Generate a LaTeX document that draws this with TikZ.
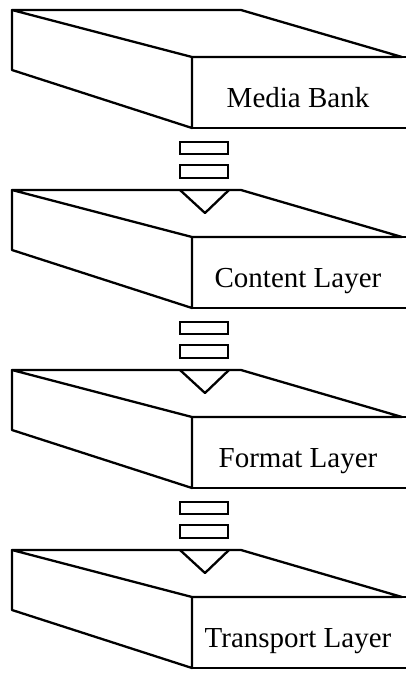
\documentclass[tikz,border=0pt]{standalone}
\usepackage{fontspec}
\setmainfont{Liberation Serif}
\tikzset{
  edge/.style={draw=black, line width=2.3pt, line join=round, line cap=round},
  label/.style={font=\fontsize{29}{33}\selectfont, anchor=base, inner sep=0pt},
  bar/.style={draw=black, line width=2pt}
}
\begin{document}
\begin{tikzpicture}[x=1pt,y=-1pt]
\useasboundingbox (0,0) rectangle (405,673);
% slab shape
\foreach \T/\nm/\txt in {10/mb/Media Bank, 190/cl/Content Layer, 370/fl/Format Layer, 550/tl/Transport Layer}{
  \draw[edge] (12,\T) -- (241,\T) -- (402,\T+47) -- (192,\T+47) -- cycle;
  \draw[edge] (12,\T) -- (12,\T+60) -- (192,\T+118) -- (192,\T+47);
  \draw[edge] (192,\T+47) -- (408,\T+47);
  \draw[edge] (192,\T+118) -- (408,\T+118);
  \node[label] (\nm) at (298,\T+97) {\txt};
}
% connectors: two bars and a notch
\foreach \T in {190,370,550}{
  \draw[bar] (180,\T-48) rectangle (228,\T-36);
  \draw[bar] (180,\T-25) rectangle (228,\T-12);
  \draw[edge] (180,\T) -- (205,\T+23) -- (229,\T);
}
\end{tikzpicture}
\end{document}
